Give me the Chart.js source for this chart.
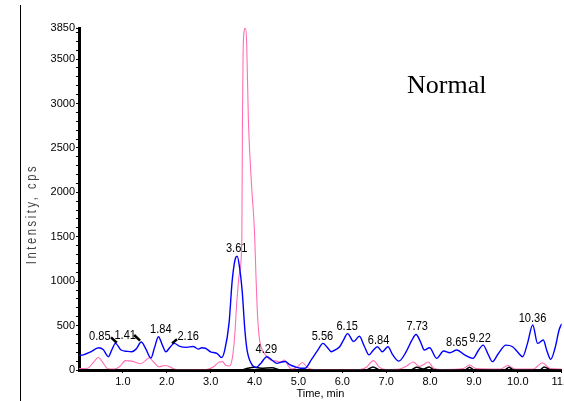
<!DOCTYPE html>
<html>
<head>
<meta charset="utf-8">
<script src="https://cdn.jsdelivr.net/npm/chart.js@4.4.0/dist/chart.umd.min.js"></script>
<style>
  html, body { margin: 0; padding: 0; background: #fff; overflow: hidden; }
  #chrom { display: block; }
</style>
</head>
<body>
<canvas id="chrom" width="574" height="401"></canvas>
<script>
// sample trace (blue), minutes / cps
const blueTime = [0.00, 0.10, 0.25, 0.45, 0.55, 0.67, 0.75, 0.83, 0.96, 1.10, 1.20, 1.30, 1.42, 1.52, 1.64, 1.72, 1.81, 1.90, 1.98, 2.08, 2.17, 2.30, 2.45, 2.60, 2.72, 2.80, 2.88, 3.00, 3.15, 3.25, 3.32, 3.42, 3.49, 3.56, 3.605, 3.66, 3.72, 3.78, 3.83, 3.94, 4.04, 4.15, 4.28, 4.40, 4.51, 4.62, 4.70, 4.80, 4.92, 5.05, 5.15, 5.30, 5.45, 5.56, 5.65, 5.75, 5.85, 5.94, 6.03, 6.12, 6.26, 6.39, 6.50, 6.61, 6.70, 6.80, 6.91, 7.04, 7.15, 7.29, 7.45, 7.58, 7.68, 7.78, 7.87, 7.99, 8.15, 8.31, 8.45, 8.61, 8.79, 8.98, 9.10, 9.21, 9.32, 9.42, 9.55, 9.73, 9.88, 10.00, 10.11, 10.22, 10.34, 10.45, 10.58, 10.66, 10.75, 10.85, 10.94, 11.00];
const blueCps = [165, 170, 200, 250, 230, 150, 230, 300, 225, 210, 205, 235, 315, 240, 135, 250, 375, 280, 205, 260, 300, 265, 255, 265, 235, 250, 245, 205, 185, 140, 220, 530, 1000, 1250, 1280, 1150, 880, 450, 225, 60, 30, 80, 150, 110, 75, 90, 95, 60, 37, 20, 19, 120, 230, 300, 260, 206, 230, 262, 340, 410, 320, 380, 270, 170, 220, 262, 206, 262, 170, 100, 200, 330, 400, 320, 225, 250, 131, 214, 195, 225, 169, 131, 220, 280, 180, 94, 180, 280, 262, 200, 150, 300, 507, 300, 338, 220, 120, 250, 450, 520];

// second trace (pink)
const pinkTime = [0.00, 0.20, 0.32, 0.44, 0.55, 0.65, 0.80, 0.93, 1.06, 1.20, 1.30, 1.40, 1.50, 1.60, 1.70, 1.82, 1.95, 2.03, 2.15, 2.30, 2.60, 2.90, 3.05, 3.20, 3.27, 3.35, 3.43, 3.50, 3.55, 3.60, 3.66, 3.71, 3.725, 3.74, 3.77, 3.79, 3.82, 3.86, 3.93, 4.00, 4.03, 4.06, 4.10, 4.15, 4.25, 4.37, 4.50, 4.60, 4.68, 4.77, 4.85, 4.97, 5.09, 5.20, 5.35, 6.40, 6.55, 6.71, 6.85, 7.00, 7.30, 7.45, 7.62, 7.75, 7.85, 7.96, 8.08, 8.30, 8.75, 8.90, 9.05, 9.60, 9.77, 9.95, 10.35, 10.56, 10.72, 11.00];
const pinkCps = [15, 20, 80, 140, 80, 15, 10, 40, 105, 100, 85, 70, 100, 138, 90, 37, 50, 45, 15, 5, 5, 5, 30, 90, 94, 50, 45, 150, 400, 790, 1100, 1464, 2815, 3600, 3830, 3850, 3700, 2815, 2100, 1550, 1100, 700, 400, 260, 170, 112, 100, 90, 112, 45, 10, 30, 85, 30, 5, 5, 30, 105, 30, 5, 10, 40, 90, 40, 60, 90, 20, 5, 15, 56, 15, 10, 50, 10, 10, 82, 20, 10];

// third trace (black, near baseline)
const blackTime = [0.00, 3.70, 3.85, 4.00, 4.15, 4.40, 4.60, 6.55, 6.70, 6.85, 7.55, 7.70, 7.85, 7.98, 8.10, 8.80, 8.90, 9.00, 9.70, 9.80, 9.90, 10.50, 10.60, 10.75, 11.00];
const blackCps = [0, 0, 20, 30, 20, 25, 0, 0, 35, 0, 0, 30, 10, 35, 0, 0, 30, 0, 0, 30, 0, 0, 35, 0, 0];

const xTicks = [1, 2, 3, 4, 5, 6, 7, 8, 9, 10, 11];
const yTicks = [0, 500, 1000, 1500, 2000, 2500, 3000, 3500, 3850];

// peak labels: text and where it sits (minutes, cps)
const peakText = ['0.85', '1.41', '1.84', '2.16', '3.61', '4.29', '5.56', '6.15', '6.84', '7.73', '8.65', '9.22', '10.36'];
const peakTextTime = [0.474, 1.053, 1.865, 2.488, 3.593, 4.269, 5.548, 6.112, 6.827, 7.707, 8.609, 9.141, 10.336];
const peakTextCps = [383, 394, 458, 375, 1370, 233, 375, 495, 338, 487, 312, 357, 582];

// leader arrows for the shifted labels: [t0, cps0, t1, cps1]
const leaders = [
  [0.73, 368, 0.86, 307],
  [1.256, 394, 1.392, 330],
  [2.233, 346, 2.12, 300]
];

const sans = '"Liberation Sans", Arial, sans-serif';

function toXY(times, vals) {
  return times.map((t, i) => ({ x: t, y: vals[i] }));
}

// condensed text: squeeze a regular face horizontally
function narrowText(ctx, s, x, y, size, squeeze) {
  ctx.save();
  ctx.translate(x, y);
  ctx.scale(squeeze, 1);
  ctx.font = size + 'px ' + sans;
  ctx.fillText(s, 0, 0);
  ctx.restore();
}

const extras = {
  id: 'extras',
  afterDatasetsDraw(chart) {
    const ctx = chart.ctx;
    const xs = chart.scales.x, ys = chart.scales.y;
    ctx.save();

    // frame line on the far left
    ctx.strokeStyle = '#000';
    ctx.lineWidth = 1;
    ctx.beginPath();
    ctx.moveTo(20.5, 5);
    ctx.lineTo(20.5, 401);
    ctx.stroke();

    // y title, letter spaced and condensed
    ctx.save();
    ctx.translate(32, 214);
    ctx.rotate(-Math.PI / 2);
    ctx.fillStyle = '#444';
    ctx.textAlign = 'center';
    ctx.textBaseline = 'middle';
    if ('letterSpacing' in ctx) ctx.letterSpacing = '3.2px';
    narrowText(ctx, 'Intensity, cps', 0, 0, 14, 0.8);
    ctx.restore();

    // peak labels
    ctx.fillStyle = '#000';
    ctx.textAlign = 'center';
    ctx.textBaseline = 'middle';
    peakText.forEach((s, i) => {
      narrowText(ctx, s, xs.getPixelForValue(peakTextTime[i]), ys.getPixelForValue(peakTextCps[i]), 13.5, 0.82);
    });

    // leader arrows
    ctx.strokeStyle = '#000';
    ctx.lineWidth = 2.5;
    leaders.forEach(a => {
      ctx.beginPath();
      ctx.moveTo(xs.getPixelForValue(a[0]), ys.getPixelForValue(a[1]));
      ctx.lineTo(xs.getPixelForValue(a[2]), ys.getPixelForValue(a[3]));
      ctx.stroke();
    });

    // sample name
    ctx.font = '26px "Liberation Serif", "Times New Roman", serif';
    ctx.textAlign = 'left';
    ctx.textBaseline = 'alphabetic';
    ctx.fillText('Normal', 407, 93);

    ctx.restore();
  }
};

new Chart(document.getElementById('chrom'), {
  type: 'line',
  data: {
    datasets: [
      {
        label: 'sample',
        data: toXY(blueTime, blueCps),
        borderColor: '#0000ff',
        borderWidth: 1.4,
        pointRadius: 0,
        cubicInterpolationMode: 'monotone'
      },
      {
        label: 'black',
        data: toXY(blackTime, blackCps),
        borderColor: '#000',
        borderWidth: 1.5,
        pointRadius: 0,
        cubicInterpolationMode: 'monotone'
      },
      {
        label: 'pink',
        data: toXY(pinkTime, pinkCps),
        borderColor: '#ff6eb4',
        borderWidth: 1.1,
        pointRadius: 0,
        cubicInterpolationMode: 'monotone'
      }
    ]
  },
  options: {
    responsive: false,
    animation: false,
    layout: { padding: { top: 28, right: 0, bottom: 0, left: 0 } },
    plugins: {
      legend: { display: false },
      tooltip: { enabled: false }
    },
    scales: {
      x: {
        type: 'linear',
        min: 0,
        max: 11,
        afterBuildTicks: s => { s.ticks = xTicks.map(v => ({ value: v })); },
        afterFit: s => { s.height = 31; },
        ticks: {
          autoSkip: false,
          maxRotation: 0,
          padding: 2,
          color: '#000',
          font: { family: sans, size: 11 },
          callback: v => v.toFixed(1)
        },
        grid: { drawOnChartArea: false, drawTicks: true, tickLength: 3, color: '#000' },
        border: { display: true, color: '#000', width: 3 },
        title: {
          display: true,
          text: 'Time, min',
          color: '#000',
          font: { family: sans, size: 11 },
          padding: { top: 0, bottom: 0 }
        }
      },
      y: {
        min: 0,
        max: 3850,
        afterBuildTicks: s => {
          const t = [];
          for (let v = 0; v < 3850; v += 100) t.push({ value: v });
          t.push({ value: 3850 });
          s.ticks = t;
        },
        afterFit: s => { s.width = 79; },
        ticks: {
          autoSkip: false,
          padding: 1,
          color: '#000',
          font: { family: sans, size: 11 },
          callback: v => (yTicks.includes(v) ? String(v) : '')
        },
        grid: { drawOnChartArea: false, drawTicks: true, tickLength: 3, color: '#000' },
        border: { display: true, color: '#000', width: 3 }
      }
    }
  },
  plugins: [extras]
});
</script>
</body>
</html>
